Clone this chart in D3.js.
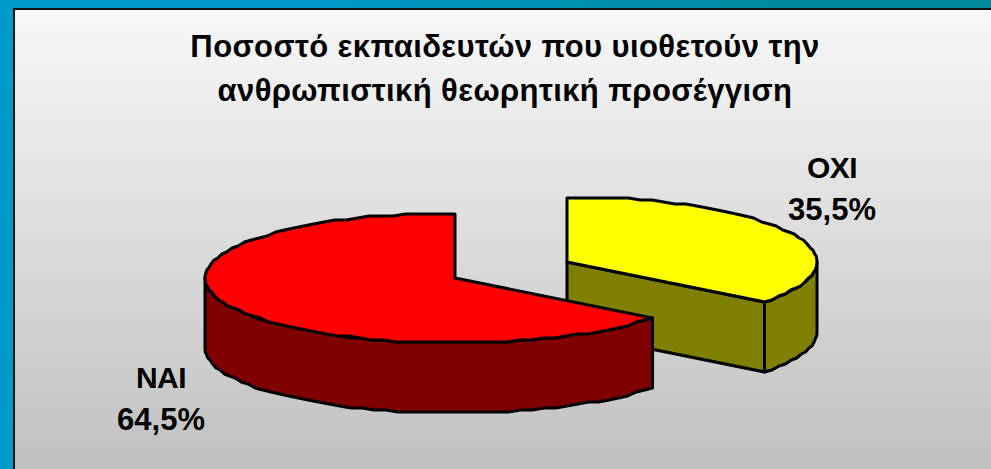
<!DOCTYPE html>
<html>
<head>
<meta charset="utf-8">
<script src="https://cdn.jsdelivr.net/npm/d3@7"></script>
<style>
  html, body { margin: 0; padding: 0; background: #0099cc; }
  text { font-family: "Liberation Sans", Arial, sans-serif; font-weight: bold; fill: #000; }
</style>
</head>
<body>
<div id="graph"></div>
<script>
var categories = ["ΟΧΙ", "ΝΑΙ"];
var values = [35.5, 64.5];
var valueLabels = ["35,5%", "64,5%"];
var titleLines = ["Ποσοστό εκπαιδευτών που υιοθετούν την", "ανθρωπιστική θεωρητική προσέγγιση"];

var width = 991, height = 469;

var svg = d3.select("#graph").append("svg")
    .attr("width", width)
    .attr("height", height)
    .style("display", "block");

var defs = svg.append("defs");

var grad = defs.append("linearGradient")
    .attr("id", "bg")
    .attr("x1", 0).attr("y1", 0).attr("x2", 0).attr("y2", 1);
grad.append("stop").attr("offset", 0).attr("stop-color", "#f8f8f8");
grad.append("stop").attr("offset", 1).attr("stop-color", "#bfbfbf");

var frame = defs.append("linearGradient")
    .attr("id", "frame")
    .attr("x1", 0).attr("y1", 0).attr("x2", 1).attr("y2", 0);
frame.append("stop").attr("offset", 0).attr("stop-color", "#009acc");
frame.append("stop").attr("offset", 0.3).attr("stop-color", "#0099c8");
frame.append("stop").attr("offset", 0.8).attr("stop-color", "#008a9e");
frame.append("stop").attr("offset", 1).attr("stop-color", "#008a9a");

svg.append("rect")
    .attr("width", width).attr("height", height)
    .attr("fill", "url(#frame)");

svg.append("rect")
    .attr("x", 14).attr("y", 9)
    .attr("width", width).attr("height", height)
    .attr("fill", "url(#bg)")
    .attr("stroke", "#111")
    .attr("stroke-width", 2);

// title
svg.selectAll(".title").data(titleLines).enter().append("text")
    .attr("class", "title")
    .attr("x", 505)
    .attr("y", function (d, i) { return 57 + i * 44; })
    .attr("text-anchor", "middle")
    .attr("font-size", "31px")
    .attr("letter-spacing", 0.4)
    .text(function (d) { return d; });

// pie, flattened by hand because d3 has no 3d pie
var rx = 250, ry = 65, depth = 70;
var pie = d3.pie().sort(null)(values);

var slices = [
    { i: 0, cx: 567, cy: 262, top: "#ffff00", side: "#808000" },
    { i: 1, cx: 455, cy: 278, top: "#ff0000", side: "#800000" }
];

var line = d3.line();

// y snapped to a small step, the source outline is a bit stepped
function arcPoints(s, a0, a1, dy) {
    var n = Math.max(1, Math.round(Math.abs(a1 - a0) / 0.05));
    var t = d3.scaleLinear().domain([0, n]).range([a0, a1]);
    return d3.range(n + 1).map(function (k) {
        var y = s.cy - ry * Math.cos(t(k));
        return [s.cx + rx * Math.sin(t(k)), Math.round(y / 2) * 2 + dy];
    });
}

var g = svg.append("g")
    .attr("stroke", "#000")
    .attr("stroke-width", 3)
    .attr("stroke-linejoin", "round");

slices.forEach(function (s) {
    var a0 = pie[s.i].startAngle, a1 = pie[s.i].endAngle;

    if (s.i === 0) {
        // cut face seen from the front, then the outer wall
        var tip = arcPoints(s, a1, a1, 0)[0];
        g.append("path").attr("fill", s.side).attr("d", line([
            [s.cx, s.cy], tip, [tip[0], tip[1] + depth], [s.cx, s.cy + depth]
        ]) + "Z");
        var wall = arcPoints(s, Math.PI / 2, a1, 0)
            .concat(arcPoints(s, a1, Math.PI / 2, depth));
        g.append("path").attr("fill", s.side).attr("d", line(wall) + "Z");
    } else {
        // only the front part of the outer wall shows
        var wall2 = arcPoints(s, a0, 3 * Math.PI / 2, 0)
            .concat(arcPoints(s, 3 * Math.PI / 2, a0, depth));
        g.append("path").attr("fill", s.side).attr("d", line(wall2) + "Z");
    }

    var topFace = [[s.cx, s.cy]].concat(arcPoints(s, a0, a1, 0));
    g.append("path").attr("fill", s.top).attr("d", line(topFace) + "Z");
});

// labels
var labelPos = [[832, 178], [161, 388]];
categories.forEach(function (c, i) {
    svg.append("text").attr("x", labelPos[i][0]).attr("y", labelPos[i][1])
        .attr("text-anchor", "middle").attr("font-size", "30px")
        .attr("letter-spacing", -0.5).text(c);
    svg.append("text").attr("x", labelPos[i][0]).attr("y", labelPos[i][1] + 42)
        .attr("text-anchor", "middle").attr("font-size", "31px").text(valueLabels[i]);
});
</script>
</body>
</html>
